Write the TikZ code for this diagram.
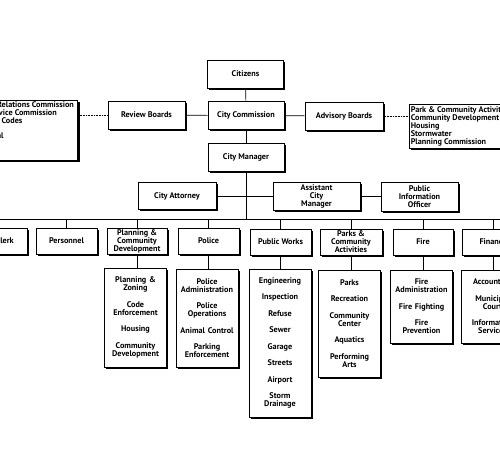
\documentclass[tikz,border=0pt]{standalone}
\usepackage{fontspec}
\setmainfont{PT Sans}
\usetikzlibrary{positioning,shadows}

\newcommand{\orgfont}{\fontsize{8.2}{8}\selectfont\bfseries}

\begin{document}
\begin{tikzpicture}[x=1pt, y=-1pt,
  box/.style={draw, fill=white, line width=0.6pt, align=center, inner sep=1pt, font=\orgfont,
    drop shadow={shadow xshift=1.8pt, shadow yshift=-1.8pt, opacity=1, fill=black}},
  topbox/.style={box, minimum width=76pt, minimum height=28pt},
  deptbox/.style={box, minimum width=61pt, minimum height=26pt},
  subbox/.style={box, text width=60pt, minimum width=61pt},
  listbox/.style={box, align=left, inner sep=1.5pt},
  link/.style={line width=0.6pt},
  board/.style={line width=0.6pt, dash pattern=on 1pt off 0.6pt}]
\useasboundingbox (0,0) rectangle (500,450);
\clip (0,0) rectangle (500,450);

% Council level
\node[topbox] (citizens) at (245.5,74) {Citizens};
\node[topbox] (commission) at (246,115.5) {City Commission};
\node[topbox] (manager) at (246,157.5) {City Manager};
\node[topbox, minimum width=77pt] (review) at (146.5,115) {Review Boards};
\node[topbox, minimum width=78pt] (advisory) at (344,116) {Advisory Boards};

% Board lists
\node[listbox, anchor=north east] (reviewlist) at (78,100)
  {\parbox[c][57pt][t]{106pt}{\fontsize{8.2}{7.7}\selectfont Human Relations Commission\\
   Civil Service Commission\\Building Codes\\Library\\Historical}};
\node[listbox, anchor=north west, minimum height=44pt] (advisorylist) at (409,104)
  {\fontsize{8.2}{7.7}\selectfont Park \& Community Activities\\Community Development\\
   Housing\\Stormwater\\Planning Commission};

\draw[link] (citizens) -- (commission);
\draw[link] (commission) -- (manager);
\draw[link] (review) -- (commission);
\draw[link] (commission) -- (advisory);
\draw[board] (review.west -| reviewlist.east) -- (review.west);
\draw[board] (advisory.east) -- (advisory.east -| advisorylist.west);

% Manager staff
\node[topbox, minimum width=78pt, minimum height=27pt] (attorney) at (177,196) {City Attorney};
\node[topbox, minimum width=87pt] (assistant) at (316.5,196) {Assistant\\City\\Manager};
\node[topbox, minimum width=77pt, minimum height=29pt] (pio) at (419.5,197) {Public\\Information\\Officer};
\draw[link] (attorney.east) -- (attorney.east -| assistant.west);
\draw[link] (assistant.east) -- (assistant.east -| pio.west);

% Departments
\coordinate (busL) at (-20,219);
\coordinate (busR) at (520,219);
\draw[link] (manager) -- (manager |- busL);
\draw[link] (busL) -- (busR);
\node[deptbox] (clerk) at (-3,241) {City Clerk};
\node[deptbox] (personnel) at (66.5,241) {Personnel};
\node[deptbox, minimum width=60pt] (planning) at (137,241) {Planning \&\\Community\\Development};
\node[deptbox] (police) at (208.5,241) {Police};
\node[deptbox] (works) at (280.5,242) {Public Works};
\node[deptbox, minimum width=62pt] (parks) at (351,242) {Parks \&\\Community\\Activities};
\node[deptbox, minimum width=60pt] (fire) at (423,242) {Fire};
\node[deptbox] (finance) at (493,242) {Finance};
\foreach \d in {clerk,personnel,planning,police,works,parks,fire,finance}
  \draw[link] (\d.north) -- (\d.north |- busL);

% Divisions
\node[subbox, minimum height=99pt] (planningsub) at (135.5,317.5)
  {Planning \&\\Zoning\\[8.5pt]Code\\Enforcement\\[8.5pt]Housing\\[8.5pt]Community\\Development};
\node[subbox, minimum height=98pt] (policesub) at (207,318)
  {Police\\Administration\\[8.5pt]Police\\Operations\\[8.5pt]Animal Control\\[8.5pt]Parking\\Enforcement};
\node[subbox, minimum height=148pt] (workssub) at (280,343)
  {Engineering\\[8.5pt]Inspection\\[8.5pt]Refuse\\[8.5pt]Sewer\\[8.5pt]Garage\\[8.5pt]Streets\\[8.5pt]Airport\\[8.5pt]Storm\\Drainage};
\node[subbox, minimum height=107pt] (parkssub) at (349.5,323.5)
  {Parks\\[8.5pt]Recreation\\[8.5pt]Community\\Center\\[8.5pt]Aquatics\\[8.5pt]Performing\\Arts};
\node[subbox, minimum height=73pt] (firesub) at (421.5,306.5)
  {Fire\\Administration\\[8.5pt]Fire Fighting\\[8.5pt]Fire\\Prevention};
\node[subbox, minimum height=73pt] (financesub) at (492.5,306.5)
  {Accounting\\[8.5pt]Municipal\\Court\\[8.5pt]Information\\Services};
\foreach \d in {planning,police,works,parks,fire,finance}
  \draw[link] (\d.south) -- (\d.south |- \d sub.north);
\end{tikzpicture}
\end{document}
